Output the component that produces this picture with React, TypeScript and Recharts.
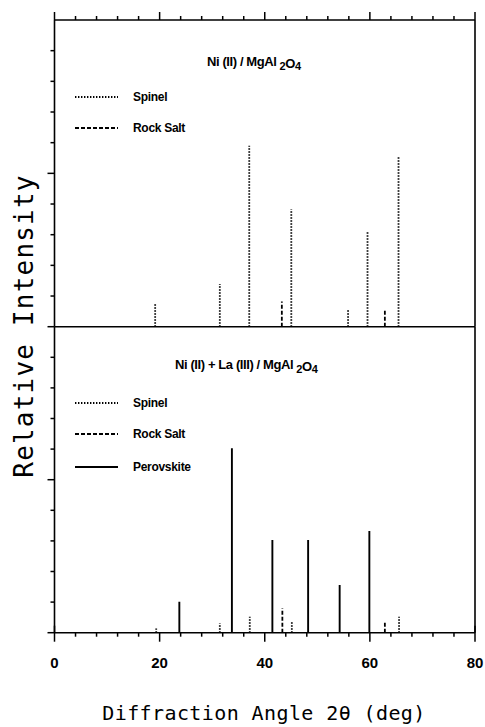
import { ComposedChart, XAxis, YAxis, Bar } from "recharts";

// peak positions (2θ, deg) and relative heights
const topSpinelAngles = [19.1, 31.4, 37.0, 45.0, 55.8, 59.5, 65.4];
const topSpinelHeights = [0.76, 1.39, 5.9, 3.83, 0.54, 3.1, 5.54];
const topRockAngles = [43.2, 62.8];
const topRockHeights = [0.82, 0.54];

const botSpinelAngles = [19.3, 31.4, 37.1, 45.1, 65.5];
const botSpinelHeights = [0.14, 0.31, 0.52, 0.38, 0.52];
const botRockAngles = [43.3, 62.8];
const botRockHeights = [0.8, 0.38];
const perovAngles = [23.7, 33.7, 41.4, 48.2, 54.2, 59.85];
const perovHeights = [1.01, 6.03, 3.03, 3.03, 1.56, 3.32];

const xTicks = [0, 4, 8, 12, 16, 20, 24, 28, 32, 36, 40, 44, 48, 52, 56, 60, 64, 68, 72, 76, 80];
const xLabels = [0, 20, 40, 60, 80];
const yTicks = [0, 1, 2, 3, 4, 5, 6, 7, 8, 9];

const INK = "#000";
const AXIS_W = 1.6;
const plotFont = "'Liberation Sans', Arial, sans-serif";
const monoFont = "'DejaVu Sans Mono', monospace";

type StickStyle = { dash?: string; width: number };
const styles: Record<string, StickStyle> = {
  spinel: { dash: "1.4 1.6", width: 1.8 },
  rock: { dash: "4 2", width: 1.8 },
  perov: { width: 1.9 },
};

type Row = { angle: number; h: number; phase: string };

function rows(angles: number[], heights: number[], phase: string): Row[] {
  return angles.map((a, i) => ({ angle: a, h: heights[i], phase }));
}

const topData = [
  ...rows(topSpinelAngles, topSpinelHeights, "spinel"),
  ...rows(topRockAngles, topRockHeights, "rock"),
].sort((a, b) => a.angle - b.angle);

const botData = [
  ...rows(botSpinelAngles, botSpinelHeights, "spinel"),
  ...rows(botRockAngles, botRockHeights, "rock"),
  ...rows(perovAngles, perovHeights, "perov"),
].sort((a, b) => a.angle - b.angle);

// each bar is drawn as a single stick at its centre
function Stick(props: any) {
  const { x, y, width, height, payload } = props;
  const st = styles[payload.phase];
  const cx = x + width / 2;
  return (
    <line
      x1={cx}
      x2={cx}
      y1={y + height}
      y2={y}
      stroke={INK}
      strokeWidth={st.width}
      strokeDasharray={st.dash}
    />
  );
}

function TopTick(props: any) {
  const { x, y, payload } = props;
  const major = payload.value % 20 === 0;
  return <line x1={x} x2={x} y1={y} y2={y - (major ? 8 : 4)} stroke={INK} strokeWidth={1.5} />;
}

function BottomTick(props: any) {
  const { x, y, payload } = props;
  const v = payload.value;
  const major = v % 20 === 0;
  const corner = v === 0 || v === 80;
  return (
    <g>
      <line x1={x} x2={x} y1={corner ? y - 7 : y} y2={y + (major ? 9 : 4)} stroke={INK} strokeWidth={1.5} />
      {xLabels.includes(v) && (
        <text x={x} y={y + 35} textAnchor="middle" fontFamily={plotFont} fontWeight="bold" fontSize={15} fill={INK}>
          {v}
        </text>
      )}
    </g>
  );
}

function LeftTick(props: any) {
  const { x, y, payload } = props;
  const major = payload.value === 5 || payload.value === 0;
  return <line x1={x} x2={x - (major ? 7 : 4)} y1={y} y2={y} stroke={INK} strokeWidth={1.5} />;
}

function RightTick(props: any) {
  const { x, y, payload } = props;
  const major = payload.value === 5 || payload.value === 0;
  return <line x1={x} x2={x + (major ? 7 : 4)} y1={y} y2={y} stroke={INK} strokeWidth={1.5} />;
}

const axisLine = { stroke: INK, strokeWidth: AXIS_W };

function Chem({ prefix, x, y }: { prefix: string; x: number; y: number }) {
  return (
    <text x={x} y={y} fontFamily={plotFont} fontWeight="bold" fontSize={13} letterSpacing={-0.4} fill={INK}>
      {prefix}MgAl
      <tspan dx={3} dy={4} fontSize={11}>2</tspan>
      <tspan dy={-2}>O</tspan>
      <tspan dy={2} fontSize={11}>4</tspan>
    </text>
  );
}

function LegendRow({ y, label, st }: { y: number; label: string; st: StickStyle }) {
  return (
    <g>
      <line x1={75} x2={118} y1={y} y2={y} stroke={INK} strokeWidth={st.width} strokeDasharray={st.dash} />
      <text x={133} y={y + 4} fontFamily={plotFont} fontWeight="bold" fontSize={12} letterSpacing={-0.3} fill={INK}>
        {label}
      </text>
    </g>
  );
}

export default function App() {
  return (
    <div style={{ position: "fixed", left: 0, top: 0, width: 485, height: 727, background: "#fff" }}>
      {/* upper panel: Ni(II)/MgAl2O4 */}
      <div style={{ position: "absolute", left: 0, top: 0 }}>
        <ComposedChart
          width={485}
          height={340}
          data={topData}
          margin={{ top: 19, right: 9, bottom: 12.3, left: 53.5 }}
        >
          <XAxis
            dataKey="angle"
            type="number"
            orientation="top"
            domain={[0, 80]}
            ticks={xTicks}
            height={1}
            tickSize={0}
            tickMargin={0}
            tickLine={false}
            tick={<TopTick />}
            axisLine={axisLine}
            allowDataOverflow
          />
          <XAxis
            xAxisId="b"
            dataKey="angle"
            type="number"
            orientation="bottom"
            domain={[0, 80]}
            height={1}
            tick={false}
            tickLine={false}
            axisLine={axisLine}
          />
          <YAxis
            type="number"
            domain={[0, 10]}
            ticks={yTicks}
            width={1}
            tickSize={0}
            tickMargin={0}
            tickLine={false}
            tick={<LeftTick />}
            axisLine={axisLine}
            allowDataOverflow
          />
          <YAxis
            yAxisId="r"
            orientation="right"
            type="number"
            domain={[0, 10]}
            ticks={yTicks}
            width={1}
            tickSize={0}
            tickMargin={0}
            tickLine={false}
            tick={<RightTick />}
            axisLine={axisLine}
          />
          <Bar dataKey="h" barSize={2} shape={<Stick />} isAnimationActive={false} />
        </ComposedChart>
      </div>

      {/* lower panel: Ni(II) + La(III)/MgAl2O4 */}
      <div style={{ position: "absolute", left: 0, top: 320 }}>
        <ComposedChart
          width={485}
          height={407}
          data={botData}
          margin={{ top: 6.7, right: 9, bottom: 93.3, left: 53.5 }}
        >
          <XAxis
            dataKey="angle"
            type="number"
            orientation="bottom"
            domain={[0, 80]}
            ticks={xTicks}
            height={1}
            tickSize={0}
            tickMargin={0}
            tickLine={false}
            tick={<BottomTick />}
            axisLine={axisLine}
            allowDataOverflow
          />
          <YAxis
            type="number"
            domain={[0, 10]}
            ticks={yTicks}
            width={1}
            tickSize={0}
            tickMargin={0}
            tickLine={false}
            tick={<LeftTick />}
            axisLine={axisLine}
            allowDataOverflow
          />
          <YAxis
            yAxisId="r"
            orientation="right"
            type="number"
            domain={[0, 10]}
            ticks={yTicks}
            width={1}
            tickSize={0}
            tickMargin={0}
            tickLine={false}
            tick={<RightTick />}
            axisLine={axisLine}
          />
          <Bar dataKey="h" barSize={2} shape={<Stick />} isAnimationActive={false} />
        </ComposedChart>
      </div>

      {/* titles, legends, axis titles */}
      <svg width={485} height={727} style={{ position: "absolute", left: 0, top: 0, pointerEvents: "none" }}>
        <Chem prefix="Ni (II) / " x={207} y={66} />
        <LegendRow y={97} label="Spinel" st={styles.spinel} />
        <LegendRow y={128} label="Rock Salt" st={styles.rock} />

        <Chem prefix="Ni (II) + La (III) / " x={175} y={369} />
        <LegendRow y={403} label="Spinel" st={styles.spinel} />
        <LegendRow y={434} label="Rock Salt" st={styles.rock} />
        <LegendRow y={467} label="Perovskite" st={styles.perov} />

        <text
          x={33}
          y={326}
          transform="rotate(-90, 33, 326)"
          textAnchor="middle"
          fontFamily={monoFont}
          fontSize={26}
          letterSpacing={1.2}
          fill={INK}
        >
          Relative Intensity
        </text>
        <text x={264} y={720} textAnchor="middle" fontFamily={monoFont} fontSize={20} letterSpacing={0.4} fill={INK}>
          Diffraction Angle 2θ (deg)
        </text>
      </svg>
    </div>
  );
}
